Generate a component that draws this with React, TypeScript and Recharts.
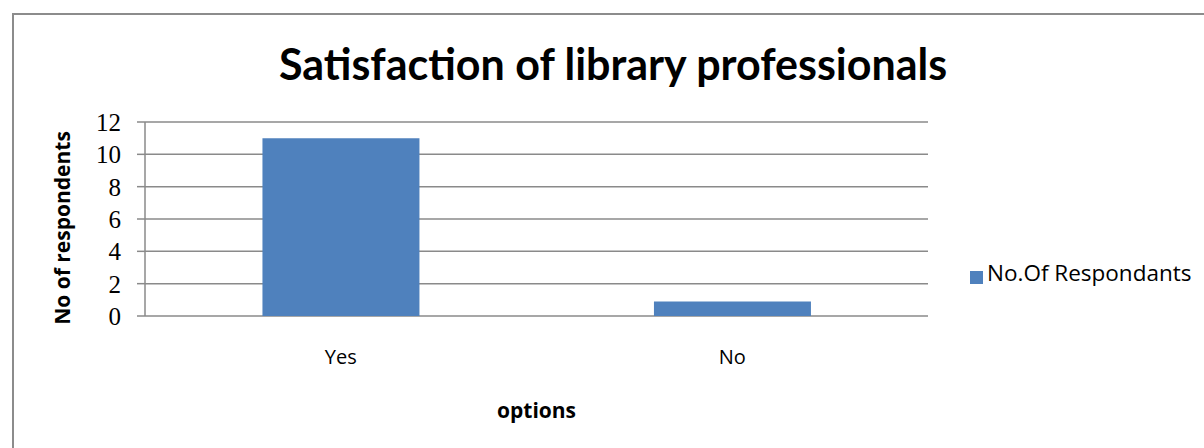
import React from 'react';
import { BarChart, Bar, XAxis, YAxis, CartesianGrid, Legend } from 'recharts';

// Survey answers and respondent counts
const options = ['Yes', 'No'];
const respondents = [11, 0.9];
const yTicks = [0, 2, 4, 6, 8, 10, 12];
const seriesName = 'No.Of Respondants';

const data = options.map((option, i) => ({ option, value: respondents[i], edge: i }));

const W = 1204;
const H = 448;
const BAR_COLOR = '#4F81BD';
const GRID = '#8a8a8a';
const TITLE_FONT = 'Lato, "Liberation Sans", sans-serif';
const SANS = '"Open Sans", "Noto Sans", sans-serif';
const SERIF = '"Liberation Serif", "DejaVu Serif", serif';

const YTitle = (props: any) => {
  const vb = props.viewBox || {};
  const x = (vb.x ?? 0) + 62;
  const y = (vb.y ?? 0) + (vb.height ?? 0) / 2 + 9;
  return (
    <text
      x={x}
      y={y}
      transform={`rotate(-90 ${x} ${y})`}
      textAnchor="middle"
      dominantBaseline="central"
      fontFamily={SANS}
      fontWeight={700}
      fontSize={21}
      fill="#000"
    >
      No of respondents
    </text>
  );
};

export default function App() {
  return (
    <div style={{ position: 'absolute', left: 0, top: 0, width: W, height: H, overflow: 'hidden', background: '#fff' }}>
      <div
        style={{
          position: 'absolute',
          left: 12,
          top: 13,
          width: W + 40,
          height: H + 40,
          border: '2px solid #8c8c8c',
          boxSizing: 'border-box',
        }}
      />
      <div
        style={{
          position: 'absolute',
          left: 10,
          width: 1206,
          top: 38,
          textAlign: 'center',
          fontFamily: TITLE_FONT,
          fontWeight: 700,
          fontSize: 43,
          lineHeight: '52px',
          color: '#000',
        }}
      >
        Satisfaction of library professionals
      </div>
      <div style={{ position: 'absolute', left: 0, top: 0 }}>
        <BarChart
          width={W}
          height={H}
          data={data}
          margin={{ top: 122, right: 44, left: 0, bottom: 0 }}
          barCategoryGap="30%"
        >
          <CartesianGrid vertical={false} stroke={GRID} strokeWidth={1.5} />
          <XAxis
            xAxisId="edges"
            type="number"
            dataKey="edge"
            domain={[0, 2]}
            ticks={[0, 1, 2]}
            tick={false}
            height={0}
            axisLine={{ stroke: GRID, strokeWidth: 1.5 }}
            tickLine={{ stroke: GRID, strokeWidth: 1.5 }}
            tickSize={10}
          />
          <XAxis
            xAxisId="cat"
            dataKey="option"
            height={132}
            axisLine={false}
            tickLine={false}
            tickSize={0}
            tickMargin={34}
            tick={{ fontFamily: SANS, fontSize: 20, fill: '#000' }}
            label={{
              value: 'options',
              position: 'insideBottom',
              offset: 30,
              style: { fontFamily: SANS, fontWeight: 700, fontSize: 21, fill: '#000' },
            }}
          />
          <YAxis
            width={145}
            domain={[0, 12]}
            ticks={yTicks}
            interval={0}
            axisLine={{ stroke: GRID, strokeWidth: 1.5 }}
            tickLine={{ stroke: GRID, strokeWidth: 1.5 }}
            tickSize={8}
            tickMargin={16}
            tick={{ fontFamily: SERIF, fontSize: 25, fill: '#000' }}
            label={<YTitle />}
          />
          <Legend
            layout="vertical"
            align="right"
            verticalAlign="middle"
            iconType="square"
            iconSize={13}
            wrapperStyle={{ position: 'absolute', left: 970, top: 257, width: 232, right: 'auto' }}
            formatter={(v: string) => (
              <span style={{ color: '#000', fontFamily: SANS, fontSize: 22.5 }}>{v}</span>
            )}
          />
          <Bar
            xAxisId="cat"
            dataKey="value"
            name={seriesName}
            fill={BAR_COLOR}
            isAnimationActive={false}
          />
        </BarChart>
      </div>
    </div>
  );
}
